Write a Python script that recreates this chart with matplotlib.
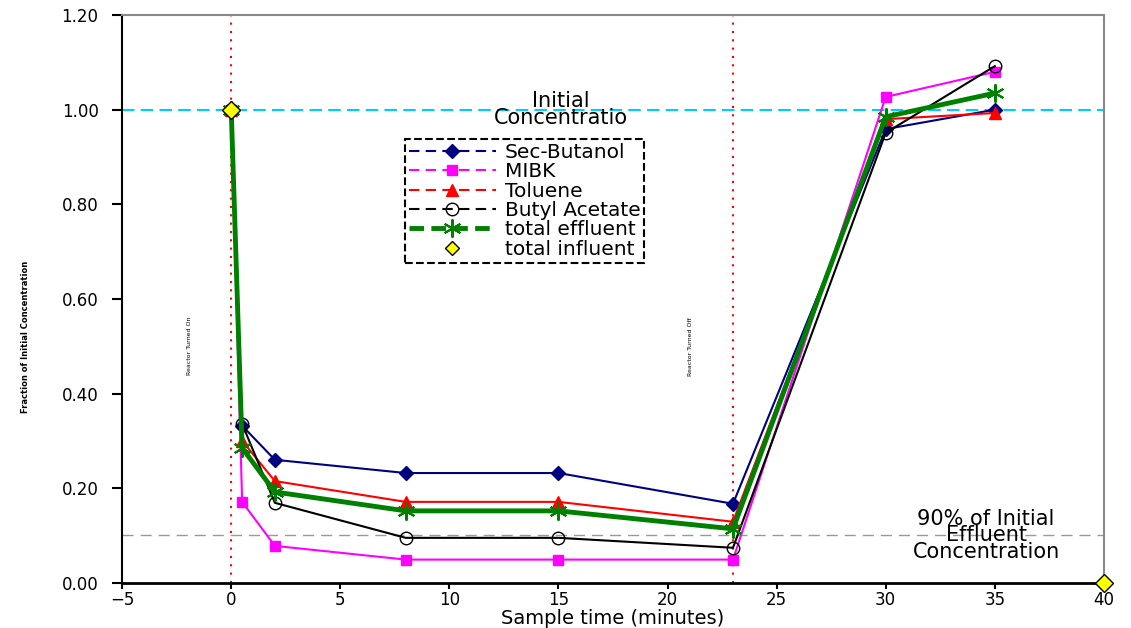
import matplotlib.pyplot as plt
from matplotlib.lines import Line2D

plt.rcParams['font.family'] = ['DejaVu Sans']

times = [0, 0.5, 2, 8, 15, 23, 30, 35]
sec_butanol = [1.0, 0.332, 0.26, 0.232, 0.232, 0.167, 0.959, 1.0]
mibk = [1.0, 0.171, 0.078, 0.049, 0.049, 0.049, 1.027, 1.08]
toluene = [1.0, 0.30, 0.215, 0.171, 0.171, 0.129, 0.98, 0.993]
butyl_acetate = [1.0, 0.336, 0.169, 0.095, 0.095, 0.074, 0.951, 1.092]
total_effluent = [1.0, 0.285, 0.192, 0.152, 0.152, 0.114, 0.985, 1.035]
influent_x = [0, 40]
influent_y = [1.0, 0.0]

fig = plt.figure(figsize=(11.31, 6.28), dpi=100)
ax = fig.add_axes([0.108, 0.072, 0.868, 0.904])

ax.axhline(1.0, color='#00CCFF', lw=1.5, ls=(0, (6, 3)), zorder=1)
ax.axhline(0.1, color='#999999', lw=1, ls=(0, (8, 5)), zorder=1)
ax.axvline(0, color='red', lw=1.5, ls=(0, (1, 3)), zorder=1)
ax.axvline(23, color='red', lw=1.5, ls=(0, (1, 3)), zorder=1)

ax.plot(times, sec_butanol, color='#000080', lw=1.5, marker='D', ms=7, label='Sec-Butanol')
ax.plot(times, mibk, color='#FF00FF', lw=1.5, marker='s', ms=7, label='MIBK')
ax.plot(times, toluene, color='red', lw=1.5, marker='^', ms=8, label='Toluene')
ax.plot(times, butyl_acetate, color='black', lw=1.5, marker='o', ms=9, mfc='none', label='Butyl Acetate')
ax.plot(times, total_effluent, color='#008000', lw=3.5, marker=(6, 2, 0), ms=13, mew=1.5, label='total effluent')
ax.plot(influent_x, influent_y, ls='none', marker='D', ms=9, mfc='yellow', mec='black', clip_on=False, zorder=5, label='total influent')

ax.set_xlim(-5, 40)
ax.set_ylim(0, 1.2)
ax.set_xticks(range(-5, 41, 5))
ax.set_yticks([0, 0.2, 0.4, 0.6, 0.8, 1.0, 1.2])
ax.set_yticklabels(['0.00', '0.20', '0.40', '0.60', '0.80', '1.00', '1.20'])
ax.tick_params(labelsize=12, direction='out', width=1.5)
ax.tick_params(axis='y', length=7, pad=10)
ax.tick_params(axis='x', length=4, pad=2)
ax.spines['left'].set_linewidth(1.5)
ax.spines['bottom'].set_linewidth(2)
for s in ['top', 'right']:
    ax.spines[s].set_color('#888888')
    ax.spines[s].set_linewidth(1.5)

ax.set_xlabel('Sample time (minutes)', fontsize=14, labelpad=0)
ax.set_ylabel('Fraction of Initial Concentration', fontsize=6, fontweight='bold', labelpad=40)
ax.yaxis.set_label_coords(-0.094, 0.433)

ax.text(-1.93, 0.5, 'Reactor Turned On', rotation=90, fontsize=4.5, ha='center', va='center')
ax.text(21.05, 0.5, 'Reactor Turned Off', rotation=90, fontsize=4.5, ha='center', va='center')
ax.text(15.1, 1.0, 'Initial\nConcentratio', fontsize=15, ha='center', va='center', linespacing=0.85)
ax.text(34.6, 0.1, '90% of Initial\nEffluent\nConcentration', fontsize=15, ha='center', va='center', linespacing=0.8)

handles = [
    Line2D([], [], color='#000080', lw=1.5, ls=(0, (5, 3)), marker='D', ms=7),
    Line2D([], [], color='#FF00FF', lw=1.5, ls=(0, (5, 3)), marker='s', ms=7),
    Line2D([], [], color='red', lw=1.5, ls=(0, (5, 3)), marker='^', ms=8),
    Line2D([], [], color='black', lw=1.5, ls=(0, (5, 3)), marker='o', ms=9, mfc='none'),
    Line2D([], [], color='#008000', lw=3.5, ls=(0, (3, 1.5)), marker=(6, 2, 0), ms=13, mew=1.5),
    Line2D([], [], ls='none', marker='D', ms=7, mfc='yellow', mec='black'),
]
labels = ['Sec-Butanol', 'MIBK', 'Toluene', 'Butyl Acetate', 'total effluent', 'total influent']
leg = ax.legend(handles, labels, loc='upper left', bbox_to_anchor=(0.288, 0.782), fontsize=14.5,
                fancybox=False, framealpha=1, edgecolor='black', handlelength=4.3,
                borderpad=0.2, labelspacing=0.02, handletextpad=0.45, borderaxespad=0)
leg.get_frame().set_linestyle('--')
leg.get_frame().set_linewidth(1.5)

fig.savefig('out.png', dpi=100)
